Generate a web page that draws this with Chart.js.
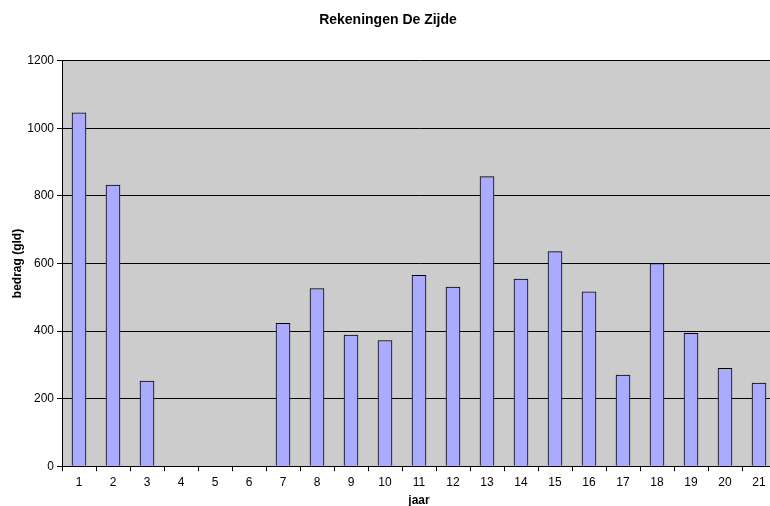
<!DOCTYPE html>
<html>
<head>
<meta charset="utf-8">
<script src="https://cdn.jsdelivr.net/npm/chart.js@4/dist/chart.umd.min.js"></script>
<style>
  html, body { margin: 0; padding: 0; background: #fff; }
  /* the original plot runs a few pixels past the right edge of the picture */
  #wrap { width: 770px; height: 506px; overflow: hidden; }
</style>
</head>
<body>
<div id="wrap"><canvas id="chart" width="776" height="506"></canvas></div>
<script>
// ─── DATA ─────────────────────────────────────────────────────────────────────
const YEARS = ["1","2","3","4","5","6","7","8","9","10","11","12","13","14","15","16","17","18","19","20","21"];
const AMOUNTS = [1046, 832, 252, null, null, null, 423, 526, 388, 372, 565, 530, 857, 554, 635, 516, 270, 600, 393, 290, 246];
const Y_TICKS = [0, 200, 400, 600, 800, 1000, 1200];

const FONT = "'Liberation Sans', Arial, sans-serif";

// grey plot area like the old spreadsheet charts
const plotBg = {
  id: "plotBg",
  beforeDraw(chart) {
    const { ctx, chartArea: a } = chart;
    ctx.save();
    ctx.fillStyle = "#cccccc";
    ctx.fillRect(a.left, a.top, a.right - a.left, a.bottom - a.top);
    ctx.restore();
  }
};

new Chart(document.getElementById("chart"), {
  type: "bar",
  data: {
    labels: YEARS,
    datasets: [{
      data: AMOUNTS,
      backgroundColor: "#aaaaff",
      borderColor: "#000000",
      borderWidth: 1,
      barThickness: 14,
    }]
  },
  options: {
    responsive: false,
    animation: false,
    layout: { padding: 0 },
    plugins: {
      legend: { display: false },
      tooltip: { enabled: false },
      title: {
        display: true,
        text: "Rekeningen De Zijde",
        color: "#000",
        font: { family: FONT, size: 14, weight: "bold" },
        padding: { top: 12, bottom: 32 },
      },
    },
    scales: {
      x: {
        grid: { drawOnChartArea: false, drawTicks: true, tickLength: 5, color: "#000" },
        border: { color: "#000", width: 1 },
        ticks: { color: "#000", font: { family: FONT, size: 12 }, padding: 4, maxRotation: 0 },
        title: {
          display: true, text: "jaar", color: "#000",
          font: { family: FONT, size: 12, weight: "bold" }, padding: { top: 0, bottom: -2 },
        },
      },
      y: {
        min: 0, max: 1200,
        afterBuildTicks(scale) { scale.ticks = Y_TICKS.map(v => ({ value: v })); },
        afterFit(scale) { scale.width = 62; },
        grid: { color: "#000", lineWidth: 1, drawTicks: true, tickLength: 5 },
        border: { color: "#000", width: 1 },
        ticks: { color: "#000", font: { family: FONT, size: 12 }, padding: 3, callback: v => String(v) },
        title: {
          display: true, text: "bedrag (gld)", color: "#000",
          font: { family: FONT, size: 12, weight: "bold" }, padding: { top: 10, bottom: 0 },
        },
      },
    },
  },
  plugins: [plotBg],
});
</script>
</body>
</html>
